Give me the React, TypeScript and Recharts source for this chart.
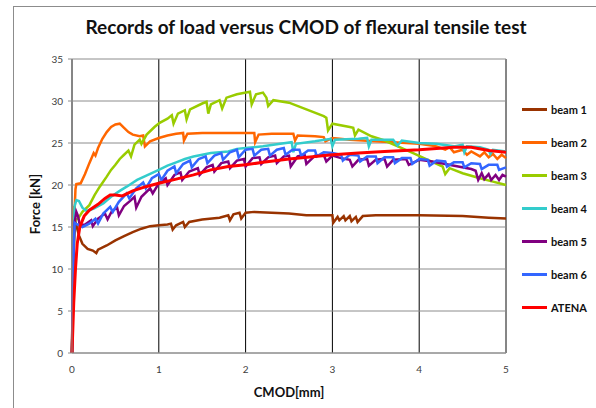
import React from 'react';
import { CartesianGrid, Line, LineChart, ReferenceLine, XAxis, YAxis } from 'recharts';

type Pt = [number, number];

const xTicks = [0, 1, 2, 3, 4, 5];
const yTicks = [0, 5, 10, 15, 20, 25, 30, 35];

const beam1: Pt[] = [
  [0, 0], [0.01, 8], [0.02, 14], [0.035, 15.8], [0.05, 15.2], [0.08, 14], [0.12, 13], [0.18, 12.4],
  [0.24, 12.2], [0.28, 11.9], [0.3, 12.3], [0.4, 12.8], [0.5, 13.4], [0.6, 13.9], [0.7, 14.4], [0.8, 14.8],
  [0.9, 15.1], [1.0, 15.2], [1.1, 15.3], [1.14, 15.4], [1.16, 14.7], [1.2, 15.2], [1.28, 15.6], [1.3, 15.0],
  [1.35, 15.6], [1.5, 15.9], [1.7, 16.1], [1.8, 16.4], [1.82, 15.8], [1.86, 16.5], [1.93, 16.7], [1.95, 16.0],
  [2.0, 16.7], [2.1, 16.8], [2.3, 16.7], [2.5, 16.6], [2.7, 16.4], [2.9, 16.4], [3.0, 16.4], [3.01, 15.5],
  [3.06, 16.2], [3.08, 15.8], [3.13, 16.3], [3.15, 15.8], [3.2, 16.3], [3.22, 15.7], [3.27, 16.2], [3.29, 15.6],
  [3.35, 16.3], [3.5, 16.4], [4.0, 16.4], [4.5, 16.3], [4.8, 16.1], [5.0, 16.0],
];

const beam2: Pt[] = [
  [0, 0], [0.01, 10], [0.02, 17.5], [0.03, 17], [0.04, 19.5], [0.05, 20.1], [0.1, 20.2], [0.15, 21.3],
  [0.2, 22.6], [0.25, 23.8], [0.27, 23.5], [0.3, 24.4], [0.35, 25.5], [0.4, 26.3], [0.45, 26.9], [0.5, 27.2],
  [0.55, 27.3], [0.6, 26.8], [0.65, 26.3], [0.7, 26.0], [0.78, 25.8], [0.82, 25.9], [0.84, 24.6], [0.9, 25.2],
  [1.0, 25.6], [1.1, 25.9], [1.2, 26.1], [1.28, 26.2], [1.29, 25.3], [1.33, 26.1], [1.5, 26.2], [1.8, 26.2],
  [2.0, 26.2], [2.1, 26.2], [2.11, 25.1], [2.15, 26.0], [2.3, 26.1], [2.55, 26.1], [2.57, 25.3], [2.6, 25.9],
  [2.8, 25.8], [2.9, 25.7], [2.92, 25.2], [3.0, 25.6], [3.2, 25.4], [3.5, 25.2], [3.7, 25.1], [4.0, 24.9],
  [4.2, 24.6], [4.3, 24.2], [4.35, 24.5], [4.4, 23.9], [4.5, 24.2], [4.55, 23.6], [4.6, 24.0], [4.7, 23.4],
  [4.75, 23.9], [4.8, 23.3], [4.85, 23.7], [4.9, 23.1], [4.95, 23.6], [5.0, 23.2],
];

const beam3: Pt[] = [
  [0, 0], [0.02, 12], [0.035, 15.8], [0.07, 16], [0.12, 16.8], [0.2, 17.6], [0.26, 18.8], [0.32, 19.8],
  [0.4, 21], [0.45, 21.8], [0.5, 22.4], [0.55, 23.1], [0.6, 23.6], [0.65, 24.1], [0.68, 23.4], [0.72, 24.8],
  [0.78, 25.4], [0.8, 24.9], [0.86, 26.0], [0.95, 26.9], [1.01, 27.4], [1.1, 27.9], [1.15, 28.3], [1.17, 27.3],
  [1.22, 28.5], [1.3, 28.9], [1.32, 27.8], [1.36, 29.0], [1.5, 29.7], [1.55, 29.9], [1.57, 28.5], [1.6, 29.6],
  [1.7, 30.1], [1.73, 29.1], [1.78, 30.4], [1.9, 30.8], [2.05, 31.1], [2.07, 29.6], [2.12, 30.8], [2.2, 31.0],
  [2.24, 30.4], [2.26, 29.4], [2.32, 30.1], [2.5, 29.8], [2.7, 29.0], [2.9, 28.2], [2.93, 28.0], [2.95, 26.5],
  [3.0, 27.3], [3.2, 26.9], [3.24, 26.8], [3.26, 25.9], [3.3, 26.6], [3.45, 25.8], [3.6, 25.3], [3.8, 24.4],
  [3.93, 23.8], [4.1, 23.0], [4.27, 22.2], [4.3, 21.3], [4.35, 22.0], [4.5, 21.4], [4.7, 20.8], [4.85, 20.4],
  [5.0, 20.0],
];

const beam4: Pt[] = [
  [0, 0], [0.01, 10], [0.03, 17.5], [0.05, 18.2], [0.08, 18.1], [0.12, 17.3], [0.17, 16.9], [0.25, 17.2],
  [0.36, 17.8], [0.45, 18.6], [0.55, 19.3], [0.63, 19.8], [0.75, 20.6], [0.85, 21.1], [1.0, 21.8], [1.1, 22.3],
  [1.2, 22.7], [1.3, 23.1], [1.4, 23.4], [1.5, 23.6], [1.6, 23.8], [1.7, 23.9], [1.8, 24.0], [1.9, 24.3],
  [2.0, 24.4], [2.2, 24.6], [2.4, 24.9], [2.53, 25.1], [2.55, 23.9], [2.58, 24.9], [2.8, 25.2], [2.98, 25.5],
  [3.0, 24.6], [3.03, 25.4], [3.3, 25.5], [3.4, 25.6], [3.42, 24.6], [3.45, 25.4], [3.7, 25.4], [3.75, 24.7],
  [3.8, 25.3], [4.0, 25.0], [4.2, 24.9], [4.4, 24.6], [4.5, 24.8], [4.52, 23.9], [4.55, 24.6], [4.7, 24.5],
  [4.8, 24.2], [4.82, 23.7], [4.85, 24.2], [5.0, 24.0],
];

const beam5: Pt[] = [
  [0, 0], [0.01, 9], [0.03, 15.5], [0.05, 16.8], [0.07, 16.3], [0.09, 15.2], [0.15, 15.3], [0.22, 15.8],
  [0.24, 15.1], [0.3, 16.0], [0.38, 16.6], [0.41, 15.9], [0.46, 16.9], [0.52, 17.3], [0.54, 16.4], [0.6, 17.5],
  [0.68, 18.2], [0.72, 18.6], [0.74, 17.3], [0.8, 18.6], [0.9, 19.6], [0.93, 19.0], [1.0, 20.2], [1.08, 20.8],
  [1.1, 20.0], [1.18, 21.2], [1.25, 21.5], [1.27, 20.6], [1.35, 21.6], [1.45, 22.0], [1.47, 21.2], [1.55, 22.1],
  [1.62, 22.4], [1.64, 21.6], [1.72, 22.6], [1.8, 22.8], [1.82, 22.0], [1.9, 22.9], [1.98, 23.1], [2.0, 22.2],
  [2.08, 23.2], [2.16, 23.3], [2.18, 22.5], [2.26, 23.3], [2.34, 23.5], [2.36, 22.6], [2.44, 23.4], [2.5, 23.5],
  [2.52, 22.2], [2.6, 23.4], [2.68, 23.6], [2.7, 22.5], [2.8, 23.5], [2.9, 23.6], [2.93, 22.8], [3.0, 23.5],
  [3.1, 23.2], [3.2, 23.0], [3.23, 22.2], [3.3, 23.0], [3.4, 23.1], [3.42, 22.3], [3.5, 23.0], [3.6, 23.1],
  [3.63, 22.2], [3.7, 23.0], [3.85, 23.1], [3.88, 22.4], [4.0, 23.0], [4.15, 22.8], [4.3, 22.5], [4.45, 22.2],
  [4.6, 21.9], [4.65, 21.7], [4.68, 20.6], [4.72, 21.4], [4.75, 20.7], [4.8, 21.3], [4.83, 20.6], [4.88, 21.2],
  [4.92, 20.6], [4.96, 21.2], [5.0, 21.0],
];

const beam6: Pt[] = [
  [0, 0], [0.01, 6], [0.02, 13], [0.03, 15.5], [0.06, 15.3], [0.12, 15.0], [0.2, 15.4], [0.27, 16.0],
  [0.3, 15.4], [0.36, 16.6], [0.44, 17.4], [0.47, 16.8], [0.54, 18.0], [0.63, 19.0], [0.66, 18.4], [0.74, 19.6],
  [0.82, 20.3], [0.85, 19.6], [0.92, 20.8], [1.0, 21.3], [1.03, 20.6], [1.1, 21.7], [1.18, 22.2], [1.2, 21.4],
  [1.28, 22.5], [1.36, 22.9], [1.38, 22.1], [1.46, 23.1], [1.54, 23.4], [1.56, 22.6], [1.64, 23.5], [1.72, 23.8],
  [1.74, 23.0], [1.82, 23.9], [1.9, 24.2], [1.92, 23.3], [2.0, 24.2], [2.08, 24.3], [2.1, 23.5], [2.18, 24.2],
  [2.26, 24.3], [2.28, 23.5], [2.36, 24.2], [2.44, 24.4], [2.46, 23.6], [2.54, 24.2], [2.62, 24.2], [2.64, 23.5],
  [2.72, 24.1], [2.8, 24.1], [2.82, 23.4], [2.9, 23.9], [3.0, 23.8], [3.1, 23.6], [3.12, 22.9], [3.2, 23.6],
  [3.3, 23.5], [3.32, 22.8], [3.4, 23.4], [3.5, 23.4], [3.52, 22.6], [3.6, 23.3], [3.7, 23.3], [3.72, 22.6],
  [3.8, 23.2], [3.9, 23.2], [3.92, 22.5], [4.0, 23.1], [4.1, 23.0], [4.12, 22.3], [4.2, 22.9], [4.3, 22.8],
  [4.32, 22.2], [4.4, 22.7], [4.5, 22.7], [4.52, 22.1], [4.6, 22.6], [4.7, 22.5], [4.72, 21.9], [4.8, 22.4],
  [4.9, 22.4], [4.92, 21.8], [5.0, 22.1],
];

const atena: Pt[] = [
  [0, 0], [0.02, 6], [0.04, 10], [0.06, 13], [0.09, 15], [0.14, 16.3], [0.2, 17.0], [0.3, 17.7],
  [0.38, 18.4], [0.44, 18.8], [0.5, 18.8], [0.58, 18.7], [0.7, 19.3], [0.85, 19.8], [1.0, 20.2], [1.2, 20.7],
  [1.4, 21.2], [1.6, 21.8], [1.8, 22.2], [2.0, 22.4], [2.2, 22.7], [2.5, 23.1], [2.8, 23.4], [3.0, 23.6],
  [3.3, 23.8], [3.6, 24.0], [4.0, 24.2], [4.4, 24.5], [4.6, 24.5], [4.8, 24.1], [5.0, 23.9],
];

const series = [
  { name: 'beam 1', points: beam1, color: '#993300', width: 2.5 },
  { name: 'beam 2', points: beam2, color: '#FF6600', width: 2.5 },
  { name: 'beam 3', points: beam3, color: '#99CC00', width: 2.5 },
  { name: 'beam 4', points: beam4, color: '#33CCCC', width: 2.5 },
  { name: 'beam 5', points: beam5, color: '#800080', width: 2.5 },
  { name: 'beam 6', points: beam6, color: '#3366FF', width: 2.5 },
  { name: 'ATENA', points: atena, color: '#FF0000', width: 3 },
];

const font = 'Lato, "Open Sans", sans-serif';

function LegendBox() {
  return (
    <div style={{ position: 'absolute', left: 522, top: 93, fontFamily: font, fontSize: 11, fontWeight: 700, color: '#111' }}>
      {series.map((s) => (
        <div key={s.name} style={{ display: 'flex', alignItems: 'center', height: 33 }}>
          <span style={{ width: 25, height: 2.5, background: s.color, marginRight: 4 }} />
          <span>{s.name}</span>
        </div>
      ))}
    </div>
  );
}

export default function App() {
  return (
    <div style={{ position: 'absolute', left: 0, top: 0, width: 596, height: 408, background: '#fff', overflow: 'hidden', fontFamily: font }}>
      <div style={{ position: 'absolute', left: 13, top: 6, width: 620, height: 440, border: '1px solid #8c8c8c' }} />
      <div style={{ position: 'absolute', left: 0, top: 15, width: 612, textAlign: 'center', fontSize: 19, fontWeight: 700, color: '#111' }}>
        Records of load versus CMOD of flexural tensile test
      </div>
      <div style={{ position: 'absolute', left: 35, top: 204, transform: 'translate(-50%, -50%) rotate(-90deg)', fontSize: 13, fontWeight: 700, whiteSpace: 'nowrap', color: '#111' }}>
        Force [kN]
      </div>
      <div style={{ position: 'absolute', left: 289, top: 392, transform: 'translate(-50%, -50%)', fontSize: 13, fontWeight: 700, whiteSpace: 'nowrap', color: '#111' }}>
        CMOD[mm]
      </div>
      <div style={{ position: 'absolute', left: 0, top: 0 }}>
        <LineChart width={596} height={408} margin={{ top: 59, right: 90, bottom: 25, left: 32 }}>
          <CartesianGrid horizontal={false} stroke="#000" strokeWidth={1} strokeOpacity={1} />
          <CartesianGrid vertical={false} stroke="#8c8c8c" strokeWidth={1} />
          <XAxis
            type="number"
            dataKey="x"
            domain={[0, 5]}
            ticks={xTicks}
            height={30}
            tickLine={false}
            tickSize={0}
            tickMargin={13}
            axisLine={{ stroke: '#8c8c8c' }}
            tick={{ fontSize: 10, fill: '#404040', fontFamily: font }}
          />
          <YAxis
            type="number"
            domain={[0, 35]}
            ticks={yTicks}
            width={40}
            tickSize={4}
            tickMargin={5}
            tickLine={{ stroke: '#8c8c8c' }}
            axisLine={{ stroke: '#8c8c8c' }}
            tick={{ fontSize: 10, fill: '#404040', fontFamily: font }}
          />
          <ReferenceLine x={5} stroke="#8c8c8c" />
          {series.map((s) => (
            <Line
              key={s.name}
              name={s.name}
              data={s.points.map(([x, y]) => ({ x, y }))}
              dataKey="y"
              stroke={s.color}
              strokeWidth={s.width}
              dot={false}
              activeDot={false}
              type="linear"
              isAnimationActive={false}
            />
          ))}
        </LineChart>
      </div>
      <LegendBox />
    </div>
  );
}
